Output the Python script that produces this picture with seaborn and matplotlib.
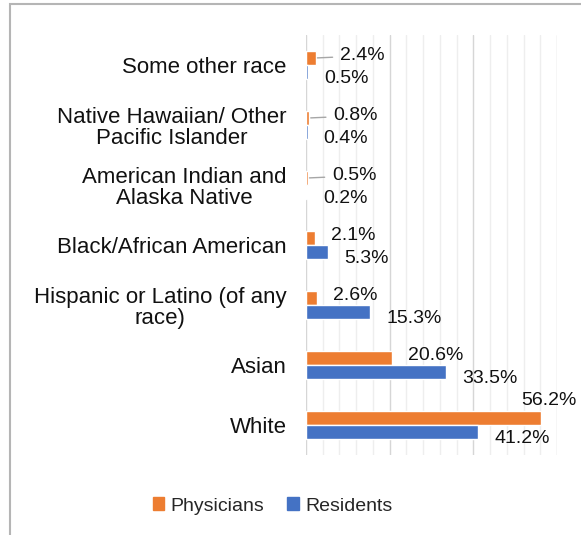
import matplotlib
matplotlib.use("Agg")
import matplotlib.pyplot as plt
import matplotlib.patches as mpatches
from matplotlib.ticker import MultipleLocator
import pandas as pd
import seaborn as sns

# data, top to bottom as in the chart
categories = [
    "Some other race",
    "Native Hawaiian/ Other\nPacific Islander",
    "American Indian and\nAlaska Native",
    "Black/African American",
    "Hispanic or Latino (of any\nrace)",
    "Asian",
    "White",
]
physicians = [2.4, 0.8, 0.5, 2.1, 2.6, 20.6, 56.2]
residents = [0.5, 0.4, 0.2, 5.3, 15.3, 33.5, 41.2]
series = ["Physicians", "Residents"]
colors = ["#ED7D31", "#4472C4"]

df = pd.DataFrame({
    "Category": categories * 2,
    "Group": [series[0]] * len(categories) + [series[1]] * len(categories),
    "Value": physicians + residents,
})

sns.set_style("white")
plt.rcParams["font.family"] = ["Liberation Sans", "DejaVu Sans"]

fig = plt.figure(figsize=(5.81, 5.35), dpi=100)
ax = fig.add_axes([306 / 581, 1 - 455 / 535, 251 / 581, 420 / 535])

sns.barplot(data=df, y="Category", x="Value", hue="Group", order=categories,
            hue_order=series, palette=colors, width=0.47, orient="h",
            saturation=1, legend=False, ax=ax)

ax.set_xlim(0, 60)
ax.xaxis.set_major_locator(MultipleLocator(20))
ax.xaxis.set_minor_locator(MultipleLocator(4))
ax.grid(axis="x", which="minor", color="#eeeeee", lw=1)
ax.grid(axis="x", which="major", color="#d6d6d6", lw=1)
ax.set_axisbelow(True)
ax.tick_params(axis="x", which="both", length=0, labelbottom=False)
ax.tick_params(axis="y", length=0, pad=14)
for lab in ax.get_yticklabels():
    lab.set_fontsize(16)
    lab.set_multialignment("center")
    lab.set_linespacing(1.0)
    lab.set_color("#111111")
ax.set_xlabel("")
ax.set_ylabel("")
for s in ax.spines.values():
    s.set_visible(False)

# data labels
top = max(physicians)
for k, cont in enumerate(ax.containers):
    vals = physicians if k == 0 else residents
    other = residents if k == 0 else physicians
    for bar, v, o in zip(cont, vals, other):
        x = bar.get_width()
        y = bar.get_y() + bar.get_height() / 2
        txt = f"{v:.1f}%"
        kw = dict(textcoords="offset pixels", fontsize=14, color="#111111", va="center")
        if k == 0 and v == top:
            ax.annotate(txt, (x, y), xytext=(8, 17), ha="center", **kw)
        elif k == 0 and v < 3 and o < 1:
            ax.annotate(txt, (x, y), xytext=(24, 2), ha="left",
                        arrowprops=dict(arrowstyle="-", color="#a6a6a6", lw=1,
                                        shrinkA=3, shrinkB=1), **kw)
        elif k == 0:
            ax.annotate(txt, (x, y), xytext=(16, 2), ha="left", **kw)
        else:
            ax.annotate(txt, (x, y), xytext=(16, -6), ha="left", **kw)

handles = [mpatches.Patch(color=c, label=s) for c, s in zip(colors, series)]
fig.legend(handles=handles, loc="center", bbox_to_anchor=(0.469, 1 - 506 / 535),
           ncol=2, frameon=False, fontsize=14, handlelength=0.6, handleheight=0.6,
           handletextpad=0.3, columnspacing=1.2)

# chart border
fig.patches.append(mpatches.Rectangle((10 / 581, -0.05), 1.2, 1 - 4 / 535 + 0.05,
                                      transform=fig.transFigure, fill=False,
                                      edgecolor="#b5b5b5", lw=1.5))

fig.savefig("out.png", dpi=100)
